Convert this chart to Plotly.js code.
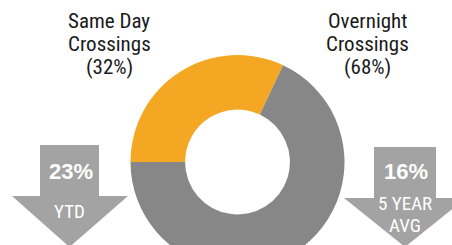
<!DOCTYPE html>
<html>
<head>
<meta charset="utf-8">
<script src="https://cdn.plot.ly/plotly-3.0.1.min.js"></script>
<style>
html,body{margin:0;padding:0;background:#fff;overflow:hidden;width:452px;height:245px;}
#wrap{width:452px;height:245px;overflow:hidden;position:relative;}
#chart{width:452px;height:300px;}
</style>
</head>
<body>
<div id="wrap"><div id="chart"></div></div>
<script>
// ---- data ----
var categories = ['Same Day Crossings', 'Overnight Crossings'];
var labelLines = [['Same Day', 'Crossings', '(32%)'], ['Overnight', 'Crossings', '(68%)']];
var shares = [32, 68];
var sliceColors = ['#F4A722', '#878787'];
var arrowValues = ['23%', '16%'];
var arrowCaptions = [['YTD'], ['5 YEAR', 'AVG']];

// ---- layout helpers (pixel -> paper) ----
var W = 452, H = 300;
function px(x) { return x / W; }
function py(y) { return (H - y) / H; }

var cx = 237.5, cy = 162, R = 107;

var trace = {
  type: 'pie',
  labels: categories,
  values: shares,
  sort: false,
  direction: 'clockwise',
  rotation: -90,
  hole: 0.49,
  marker: { colors: sliceColors, line: { width: 0 } },
  textinfo: 'none',
  hoverinfo: 'none',
  showlegend: false,
  domain: { x: [px(cx - R), px(cx + R)], y: [py(cy + R), py(cy - R)] }
};

var annotations = [];
var labelX = [109, 367];
var labelY = [20.5, 43.5, 67];
var narrow = '"Roboto Condensed", "Open Sans Condensed", sans-serif';
labelLines.forEach(function (lines, i) {
  lines.forEach(function (t, j) {
    annotations.push({
      xref: 'paper', yref: 'paper', x: px(labelX[i]), y: py(labelY[j]),
      xanchor: 'center', yanchor: 'middle', showarrow: false, text: t,
      borderpad: 0,
      font: { family: narrow, size: 21, color: '#1a1a1a' }
    });
  });
});

// arrows
var arrows = [
  { c: 69.5, sl: 40, sr: 99, top: 145, hy: 196, hl: 12, hr: 128, tip: 247 },
  { c: 405, sl: 374, sr: 436, top: 147, hy: 198, hl: 344, hr: 466, tip: 247 }
];
var shapes = arrows.map(function (a) {
  var pts = [[a.sl, a.top], [a.sr, a.top], [a.sr, a.hy], [a.hr, a.hy], [a.c, a.tip], [a.hl, a.hy], [a.sl, a.hy]];
  var d = 'M' + pts.map(function (p) { return px(p[0]) + ',' + py(p[1]); }).join(' L') + ' Z';
  return { type: 'path', xref: 'paper', yref: 'paper', path: d, fillcolor: '#A3A3A3', line: { width: 0 }, layer: 'above' };
});

var valY = 172;
var capY = [[211], [204, 225]];
arrowValues.forEach(function (v, i) {
  annotations.push({
    xref: 'paper', yref: 'paper', x: px(arrows[i].c + 1), y: py(valY),
    xanchor: 'center', yanchor: 'middle', showarrow: false, text: '<b>' + v + '</b>',
    borderpad: 0,
    font: { family: '"Liberation Sans", Arial, sans-serif', size: 22, color: '#ffffff' }
  });
  arrowCaptions[i].forEach(function (t, j) {
    annotations.push({
      xref: 'paper', yref: 'paper', x: px(arrows[i].c), y: py(capY[i][j]),
      xanchor: 'center', yanchor: 'middle', showarrow: false, text: t,
      borderpad: 0,
      font: { family: narrow, size: 19, color: '#ffffff' }
    });
  });
});

var layout = {
  width: W, height: H,
  margin: { l: 0, r: 0, t: 0, b: 0, pad: 0 },
  paper_bgcolor: '#ffffff',
  plot_bgcolor: '#ffffff',
  showlegend: false,
  shapes: shapes,
  annotations: annotations
};

Plotly.newPlot('chart', [trace], layout, { displayModeBar: false, staticPlot: true });
</script>
</body>
</html>
